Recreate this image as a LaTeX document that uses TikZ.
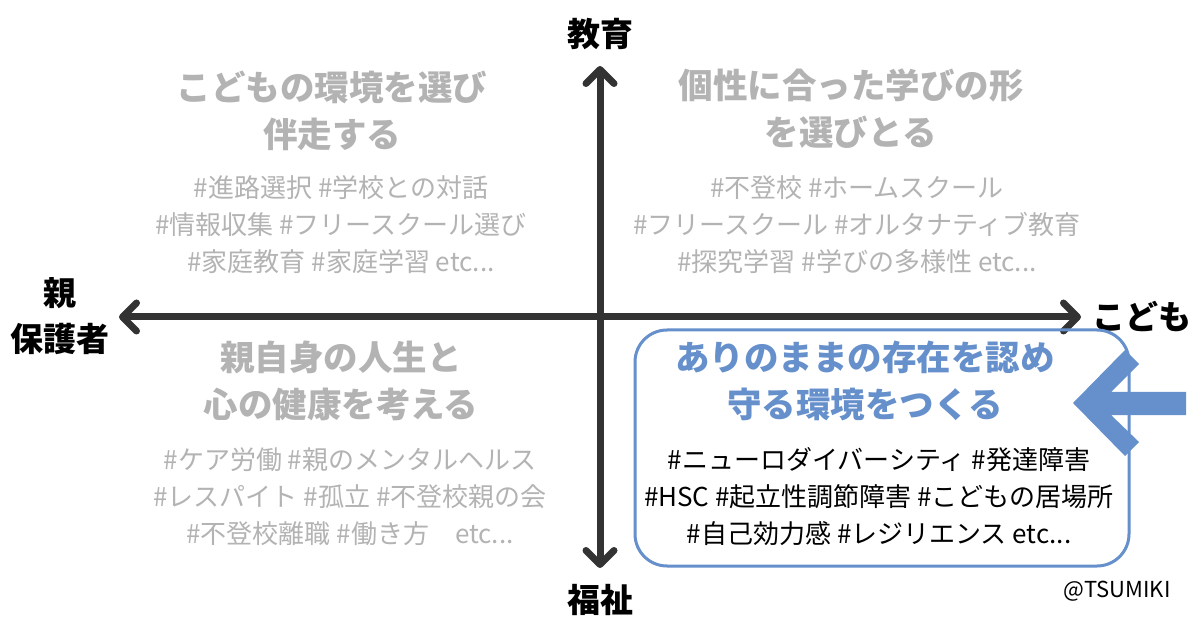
\documentclass[tikz,border=0pt]{standalone}
\usepackage{fontspec}
\newfontfamily\jp{Noto Sans CJK JP}
\usetikzlibrary{arrows.meta}
\definecolor{axisgray}{HTML}{333333}
\definecolor{softgray}{HTML}{B3B3B3}
\definecolor{keyblue}{HTML}{6690CB}
\tikzset{
  axisline/.style={line width=7pt, draw=axisgray, line cap=round,
    {Straight Barb[length=14pt,width=28pt,round]}-{Straight Barb[length=14pt,width=28pt,round]}},
  axislabel/.style={font=\jp\bfseries\fontsize{33}{46}\selectfont, inner sep=0pt, align=center},
  headline/.style={font=\jp\bfseries\fontsize{34.5}{47}\selectfont, text=softgray, inner sep=0pt, align=center},
  taglist/.style={font=\jp\fontsize{26}{37}\selectfont, text=softgray, inner sep=0pt, align=center},
}
\begin{document}
\begin{tikzpicture}[x=1pt,y=-1pt]
	\useasboundingbox[fill=white] (0,0) rectangle (1200,628);
	\coordinate (n) at (600,66);
	\coordinate (s) at (600,568);
	\coordinate (w) at (119,317);
	\coordinate (e) at (1081,317);
	\draw[axisline] (s) -- (n);
	\draw[axisline] (w) -- (e);
	\node[axislabel] (edu) at (600,34) {教育};
	\node[axislabel] (welfare) at (600,600) {福祉};
	\node[axislabel] (parent) at (60,316) {親\\保護者};
	\node[axislabel] (child) at (1142,316) {こども};
	\node[headline] (tlhead) at (332,111) {こどもの環境を選び\\伴走する};
	\node[taglist] (tltags) at (341,225) {\#進路選択 \#学校との対話\\\#情報収集 \#フリースクール選び\\\#家庭教育 \#家庭学習 etc...};
	\node[headline] (trhead) at (851,109) {個性に合った学びの形\\を選びとる};
	\node[taglist] (trtags) at (857,225) {\#不登校 \#ホームスクール\\\#フリースクール \#オルタナティブ教育\\\#探究学習 \#学びの多様性 etc...};
	\node[headline] (blhead) at (341,381) {親自身の人生と\\心の健康を考える};
	\node[taglist] (bltags) at (350,497) {\#ケア労働 \#親のメンタルヘルス\\\#レスパイト \#孤立 \#不登校親の会\\\#不登校離職 \#働き方　etc...};
	\fill[keyblue] (1073,403) -- (1125,350) -- (1139,364) -- (1111,392) -- (1186,392) -- (1186,415) -- (1111,415) -- (1139,442) -- (1125,456) -- cycle;
	\draw[keyblue, line width=3pt, rounded corners=32pt] (635,330) rectangle (1129,566);
	\node[headline, text=keyblue] (brhead) at (865,381) {ありのままの存在を認め\\守る環境をつくる};
	\node[taglist, text=black] (brtags) at (879,497) {\#ニューロダイバーシティ \#発達障害\\\#HSC \#起立性調節障害 \#こどもの居場所\\\#自己効力感 \#レジリエンス etc...};
	\node[font=\jp\fontsize{22}{26}\selectfont, inner sep=0pt] (credit) at (1117,591) {@TSUMIKI};
\end{tikzpicture}
\end{document}
